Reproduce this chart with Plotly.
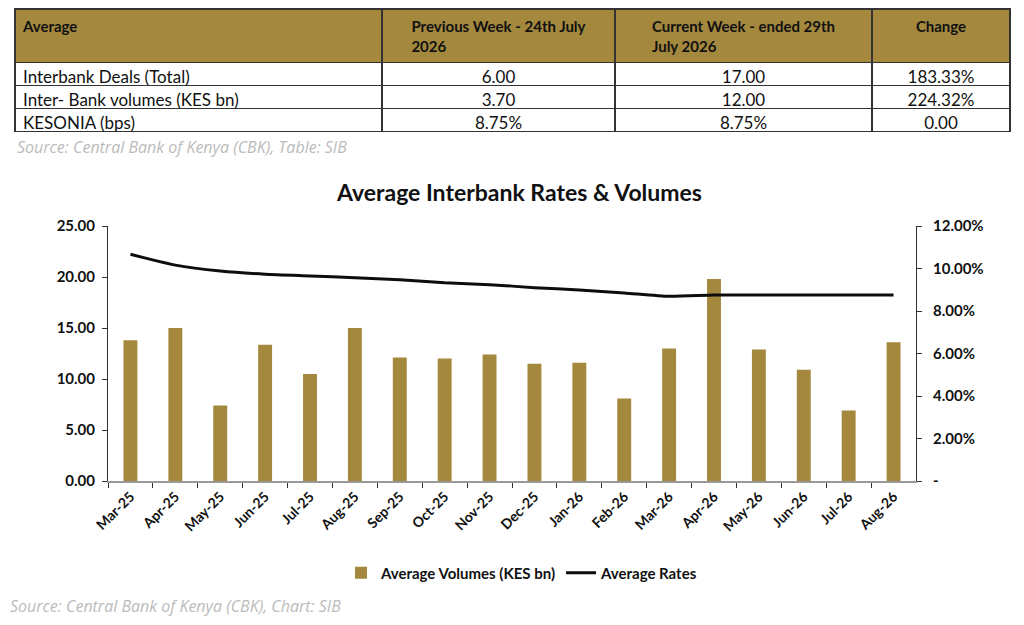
import plotly.graph_objects as go

# table data
row_labels = ["Interbank Deals (Total)", "Inter- Bank volumes (KES bn)", "KESONIA (bps)"]
prev_week = ["6.00", "3.70", "8.75%"]
curr_week = ["17.00", "12.00", "8.75%"]
change = ["183.33%", "224.32%", "0.00"]
table_headers = ["Average", "Previous Week - 24th July<br>2026",
                 "Current Week - ended 29th<br>July 2026", "Change"]

# chart data
months = ["Mar-25", "Apr-25", "May-25", "Jun-25", "Jul-25", "Aug-25", "Sep-25", "Oct-25",
          "Nov-25", "Dec-25", "Jan-26", "Feb-26", "Mar-26", "Apr-26", "May-26", "Jun-26",
          "Jul-26", "Aug-26"]
volumes = [13.8, 15.0, 7.4, 13.35, 10.5, 15.0, 12.1, 12.0, 12.4, 11.5, 11.6, 8.1,
           13.0, 19.8, 12.9, 10.9, 6.9, 13.6]
rates = [10.67, 10.16, 9.88, 9.73, 9.65, 9.57, 9.47, 9.33, 9.24, 9.10, 8.99, 8.85,
         8.69, 8.75, 8.75, 8.75, 8.75, 8.75]
rates_frac = [r / 100 for r in rates]

GOLD = "#A4883E"
FONT = "Lato"
OFF = 8  # page body margin
W, H = 1024 - OFF, 625 - OFF


def px_x(p):
    return (p - OFF) / W


def px_y(p):
    return 1 - (p - OFF) / H


fig = go.Figure()

fig.add_trace(go.Table(
    domain=dict(x=[px_x(15), px_x(1010)], y=[px_y(136), px_y(9)]),
    columnwidth=[367, 233, 257, 138],
    header=dict(
        values=[f"<b>{h}</b>" for h in table_headers],
        fill_color=GOLD,
        line=dict(color="#333333", width=1.5),
        align=["left", "center", "center", "center"],
        font=dict(family=FONT, size=15, color="#111111"),
        height=42,
    ),
    cells=dict(
        values=[row_labels, prev_week, curr_week, change],
        fill_color="white",
        line=dict(color="#333333", width=1.5),
        align=["left", "center", "center", "center"],
        font=dict(family=FONT, size=17, color="#111111"),
        height=23,
    ),
))

fig.add_trace(go.Bar(
    x=months, y=volumes, name="Average Volumes (KES bn)",
    marker=dict(color=GOLD, line=dict(width=0)),
    yaxis="y",
))
fig.add_trace(go.Scatter(
    x=months, y=rates_frac, name="Average Rates", mode="lines",
    line=dict(color="#0d0d0d", width=3, shape="spline", smoothing=0.6),
    yaxis="y2",
))

fig.update_layout(
    width=W, height=H,
    margin=dict(l=0, r=0, t=0, b=0, autoexpand=False),
    paper_bgcolor="white", plot_bgcolor="white",
    font=dict(family=FONT, color="#111111"),
    bargap=0.69,
    showlegend=True,
    legend=dict(orientation="h", x=px_x(522), xanchor="center", y=px_y(573), yanchor="middle",
                font=dict(family=FONT, size=15, color="#111111", weight="bold"),
                itemwidth=30, traceorder="normal"),
    xaxis=dict(
        domain=[px_x(108), px_x(916)],
        anchor="y", automargin=False,
        tickangle=-45,
        tickfont=dict(family=FONT, size=14, weight="bold"),
        showline=True, linecolor="#999999", linewidth=2,
        ticks="outside", tickcolor="#333333", ticklen=5,
        tickson="boundaries",
        showgrid=False,
    ),
    yaxis=dict(
        domain=[px_y(481), px_y(226)], automargin=False,
        range=[0, 25], dtick=5, tickformat=".2f",
        tickfont=dict(family=FONT, size=15, weight="bold"),
        ticklabelstandoff=4,
        showline=True, linecolor="#333333", linewidth=1,
        ticks="outside", tickcolor="#333333", ticklen=5,
        showgrid=False, zeroline=False,
    ),
    yaxis2=dict(
        overlaying="y", side="right", anchor="x", automargin=False,
        range=[0, 0.12],
        tickvals=[0, 0.02, 0.04, 0.06, 0.08, 0.10, 0.12],
        ticktext=["-", "2.00%", "4.00%", "6.00%", "8.00%", "10.00%", "12.00%"],
        tickfont=dict(family=FONT, size=15, weight="bold"),
        ticklabelstandoff=8,
        showline=True, linecolor="#333333", linewidth=1,
        ticks="outside", tickcolor="#333333", ticklen=5,
        showgrid=False, zeroline=False,
    ),
    annotations=[
        dict(text="Source: Central Bank of Kenya (CBK), Table: SIB", x=px_x(15), y=px_y(147),
             xref="paper", yref="paper", xanchor="left", yanchor="middle", showarrow=False,
             font=dict(family="Open Sans", size=16, color="#BBBBBB", style="italic")),
        dict(text="<b>Average Interbank Rates & Volumes</b>", x=px_x(519), y=px_y(192),
             xref="paper", yref="paper", xanchor="center", yanchor="middle", showarrow=False,
             font=dict(family=FONT, size=23, color="#111111")),
        dict(text="Source: Central Bank of Kenya (CBK), Chart: SIB", x=px_x(8), y=px_y(606),
             xref="paper", yref="paper", xanchor="left", yanchor="middle", showarrow=False,
             font=dict(family="Open Sans", size=16, color="#BBBBBB", style="italic")),
    ],
)

fig.write_html("out.html")
